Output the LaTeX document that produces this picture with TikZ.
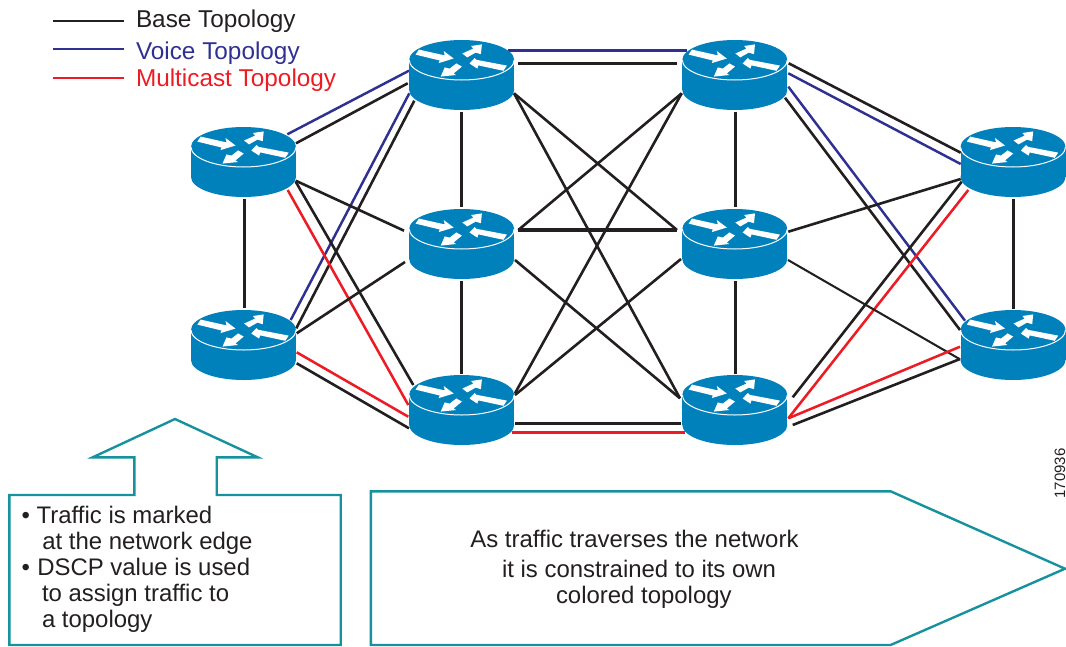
\documentclass[tikz,border=0pt]{standalone}
\usepackage{fontspec}
\setmainfont{Liberation Sans}
\usetikzlibrary{calc}
\definecolor{routerblue}{HTML}{0081BC}
\definecolor{inkblack}{HTML}{231F20}
\definecolor{topoblue}{HTML}{2E3192}
\definecolor{topored}{HTML}{ED1C24}
\definecolor{calloutteal}{HTML}{16929E}
\tikzset{
  routerbox/.style={minimum width=78.75pt,minimum height=52.5pt,inner sep=0pt,outer sep=0pt},
  baseline/.style={draw=inkblack,line width=1.95pt},
  basethin/.style={draw=inkblack,line width=1.55pt},
  basethick/.style={draw=inkblack,line width=2.5pt},
  voiceline/.style={draw=topoblue,line width=1.85pt},
  mcastline/.style={draw=topored,line width=1.9pt},
  legendline/.style={line width=1.5pt},
  callout/.style={draw=calloutteal,line width=1.8pt,line join=miter,fill=white},
  label/.style={font=\fontsize{17.95pt}{20pt}\selectfont,text=inkblack,anchor=base west,inner sep=0pt,outer sep=0pt},
  legendlabel/.style={label,font=\fontsize{18.25pt}{20pt}\selectfont},
}
\newcommand{\lnk}[7]{\draw[#1] ($(#2)+(#3,#4)$) -- ($(#5)+(#6,#7)$);}
\newcommand{\routericon}[1]{%
  \begin{scope}[shift={(#1)}]
    \fill[routerblue] (0,-15) ellipse [x radius=52.5,y radius=20];
    \fill[routerblue] (0,15) ellipse [x radius=52.5,y radius=20];
    \fill[routerblue] (-52.5,-15) rectangle (52.5,15);
    \draw[white,line width=0.75pt] (-52.5,-15) .. controls (-52.5,-4) and (-29,5) .. (0,5) .. controls (29,5) and (52.5,-4) .. (52.5,-15);
    \fill[white] (-46.2,-20.4) -- (-42.8,-25.4) -- (-17,-19.6) -- (-18,-24) -- (-8,-16.5) -- (-23,-11.9) -- (-22,-14.5) -- cycle;
    \fill[white] (0.6,-21.5) -- (5.5,-17.6) -- (14,-22.4) -- (19.2,-20.8) -- (20.2,-30.6) -- (9.4,-29) -- (11.6,-26.4) -- cycle;
    \fill[white] (45.2,-9.4) -- (41.7,-4.2) -- (16.7,-9.6) -- (15.6,-6.4) -- (7.8,-11.5) -- (13,-17) -- (14.8,-15.2) -- cycle;
    \fill[white] (-5.4,-11.6) -- (0.2,-8.4) -- (-8,-1.6) -- (-5.6,0) -- (-21,1.6) -- (-17,-7.6) -- (-12,-6.4) -- cycle;
  \end{scope}}
\begin{document}
\begin{tikzpicture}[x=0.75pt,y=-0.75pt]
\useasboundingbox (0,0) rectangle (1066,646);
% routers (placeholders first, so that links lie under the icons)
\node[routerbox] (R1) at (243.5,162) {};
\node[routerbox] (R2) at (243.5,345) {};
\node[routerbox] (M1) at (461.7,75) {};
\node[routerbox] (M2) at (461.7,244) {};
\node[routerbox] (M3) at (461.7,410) {};
\node[routerbox] (N1) at (734.8,75) {};
\node[routerbox] (N2) at (734.8,244) {};
\node[routerbox] (N3) at (734.8,410) {};
\node[routerbox] (E1) at (1013,162) {};
\node[routerbox] (E2) at (1013,345) {};
% left links
\lnk{voiceline}{R1}{43.8}{-27.7}{M1}{-52.7}{-4.3}
\lnk{baseline}{R1}{52.5}{-18.7}{M1}{-54}{8.3}
\lnk{voiceline}{M1}{-52.4}{18.3}{R2}{47.2}{-25}
\lnk{baseline}{M1}{-47.4}{25.7}{R2}{52.8}{-16.7}
\lnk{baseline}{R1}{52.2}{18.7}{M2}{-57.7}{-13.3}
\lnk{mcastline}{R1}{44.2}{28}{M3}{-53.4}{-5}
\lnk{baseline}{R1}{52.2}{19.7}{M3}{-48.4}{-25}
\lnk{baseline}{R2}{53.2}{-11.7}{M2}{-56.7}{18}
\lnk{mcastline}{R2}{53.2}{7.3}{M3}{-53.4}{6.7}
\lnk{baseline}{R2}{53.2}{18.3}{M3}{-52.7}{18.3}
\lnk{basethick}{R1}{1}{37.3}{R2}{1}{-36.7}
\lnk{basethick}{M1}{0}{36.7}{M2}{0}{-36.7}
\lnk{basethick}{M2}{0}{37}{M3}{0}{-36}
% middle links
\lnk{voiceline}{M1}{46.3}{-24.3}{N1}{-48.1}{-24.3}
\lnk{baseline}{M1}{56.3}{-11.7}{N1}{-57.8}{-11.7}
\lnk{baseline}{M3}{53.3}{13.3}{N3}{-53.8}{13.3}
\lnk{mcastline}{M3}{50}{22.7}{N3}{-49.8}{22.7}
\lnk{baseline}{M1}{52.3}{18.3}{N2}{-57.8}{-14}
\lnk{baseline}{M1}{52.3}{18.3}{N3}{-54.8}{-11.7}
\lnk{baseline}{N1}{-53.1}{18.3}{M2}{56.6}{-14}
\lnk{baseline}{N1}{-53.1}{18.3}{M3}{53.3}{-16.7}
\lnk{basethick}{M2}{56.6}{-14}{N2}{-57.8}{-14}
\lnk{baseline}{M2}{53.3}{16}{N3}{-54.8}{-11.7}
\lnk{baseline}{N2}{-53.8}{15}{M3}{53.3}{-15}
\lnk{basethick}{N1}{0.5}{36.7}{N2}{0.5}{-36.7}
\lnk{basethick}{N2}{0.5}{37}{N3}{0.5}{-36}
% right links
\lnk{baseline}{N1}{53.9}{-11.7}{E1}{-52.3}{-9.3}
\lnk{voiceline}{N1}{53.5}{-1.7}{E1}{-52.3}{2}
\lnk{voiceline}{N1}{53.5}{11.7}{E2}{-48}{-24.3}
\lnk{baseline}{N1}{50.2}{22.7}{E2}{-53}{-15}
\lnk{baseline}{N2}{53.5}{-12.3}{E1}{-52.3}{17}
\lnk{baseline}{E1}{-51.3}{19.7}{N3}{57.9}{-12.7}
\lnk{mcastline}{E1}{-44.7}{28}{N3}{53.5}{8.3}
\lnk{basethin}{N2}{53.2}{16}{E2}{-53}{14.3}
\lnk{mcastline}{E2}{-53}{1.7}{N3}{53.5}{8.3}
\lnk{baseline}{E2}{-53}{14}{N3}{57.9}{15}
\lnk{basethick}{E1}{0.3}{37}{E2}{0.3}{-36}
% router icons
\foreach \r in {R1,R2,M1,M2,M3,N1,N2,N3,E1,E2} {\routericon{\r}}
% legend
\coordinate (la) at (53,20.7); \coordinate (lb) at (123.7,20.7);
\coordinate (lc) at (53,49.3); \coordinate (ld) at (123.7,49.3);
\coordinate (le) at (53,77.7); \coordinate (lf) at (123.7,77.7);
\draw[legendline,inkblack] (la) -- (lb);
\draw[legendline,topoblue] (lc) -- (ld);
\draw[legendline,topored] (le) -- (lf);
\node[legendlabel] (tbase) at (136,27.4) {Base Topology};
\node[legendlabel,text=topoblue] (tvoice) at (136,59.6) {Voice Topology};
\node[legendlabel,text=topored] (tmcast) at (136,86.3) {Multicast Topology};
% callouts
\draw[callout] (175,419) -- (257.7,457.3) -- (216.7,457.3) -- (216.7,495) -- (340.7,495) -- (340.7,645) -- (9.3,645) -- (9.3,495) -- (134.3,495) -- (134.3,457.3) -- (92.7,457.3) -- cycle;
\draw[callout] (370.8,491.3) -- (890.6,491.3) -- (1065,568.7) -- (890.6,645) -- (370.8,645) -- cycle;
\node[label] (t1) at (21.5,523.3) {•};
\node[label] (t2) at (36.7,523.3) {Traffic is marked};
\node[label] (t3) at (42.3,549.3) {at the network edge};
\node[label] (t4) at (21.5,575.7) {•};
\node[label] (t5) at (37.3,575.7) {DSCP value is used};
\node[label] (t6) at (42,601.7) {to assign traffic to};
\node[label] (t7) at (42,627.3) {a topology};
\node[label] (p1) at (470.4,547.7) {As traffic traverses the network};
\node[label] (p2) at (502,577.7) {it is constrained to its own};
\node[label] (p3) at (556,603) {colored topology};
\node[label,font=\fontsize{11.25pt}{13pt}\selectfont,rotate=90] (idn) at (1065,498.5) {170936};
\end{tikzpicture}
\end{document}
